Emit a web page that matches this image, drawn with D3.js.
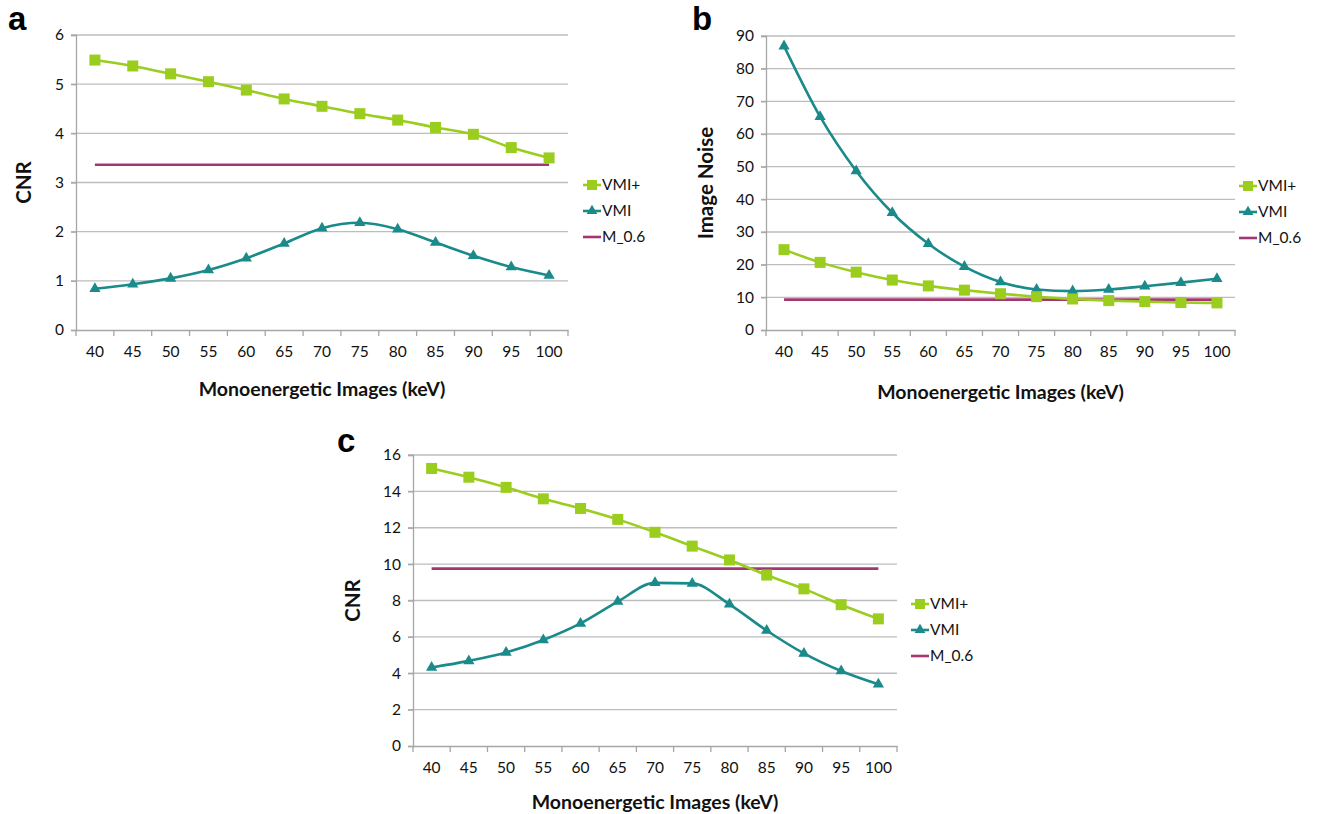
<!DOCTYPE html>
<html><head><meta charset="utf-8">
<script src="https://cdn.jsdelivr.net/npm/d3@7"></script>
<style>body{margin:0;background:#fff;}svg{display:block;font-family:Lato,"Open Sans",sans-serif;}</style>
</head><body><svg id="chart" width="1338" height="814"></svg>
<script>
const categories = ["40","45","50","55","60","65","70","75","80","85","90","95","100"];
const seriesNames = ["VMI+","VMI","M_0.6"];
// Panel a: CNR
const aVMIplus = [5.49,5.37,5.21,5.05,4.88,4.70,4.55,4.40,4.27,4.12,3.98,3.71,3.50];
const aVMI = [0.84,0.93,1.05,1.22,1.46,1.76,2.07,2.18,2.05,1.78,1.51,1.28,1.11];
const aM06 = [3.36,3.36,3.36,3.36,3.36,3.36,3.36,3.36,3.36,3.36,3.36,3.36,3.36];
const aTicks = [0,1,2,3,4,5,6];
// Panel b: Image Noise
const bVMIplus = [24.6,20.7,17.7,15.3,13.5,12.2,11.1,10.2,9.5,9.0,8.7,8.4,8.3];
const bVMI = [86.9,65.3,48.7,35.9,26.4,19.4,14.7,12.4,11.9,12.4,13.4,14.5,15.7];
const bM06 = [9.3,9.3,9.3,9.3,9.3,9.3,9.3,9.3,9.3,9.3,9.3,9.3,9.3];
const bTicks = [0,10,20,30,40,50,60,70,80,90];
// Panel c: CNR
const cVMIplus = [15.26,14.78,14.22,13.59,13.06,12.46,11.75,10.99,10.23,9.40,8.64,7.77,6.99];
const cVMI = [4.32,4.68,5.14,5.83,6.74,7.94,8.97,8.94,7.79,6.35,5.09,4.12,3.39];
const cM06 = [9.75,9.75,9.75,9.75,9.75,9.75,9.75,9.75,9.75,9.75,9.75,9.75,9.75];
const cTicks = [0,2,4,6,8,10,12,14,16];

const colors = {"VMI+":"#9ACD1E","VMI":"#1B8A8A","M_0.6":"#A3386F"};
const svg = d3.select("#chart");

function panel(cfg){
  const g = svg.append("g");
  const x = d3.scaleBand().domain(categories).range([cfg.left,cfg.right]);
  const y = d3.scaleLinear().domain([0,cfg.ticks[cfg.ticks.length-1]]).range([cfg.bottom,cfg.top]);
  g.append("g").selectAll("line").data(cfg.ticks.filter(t=>t>0)).join("line")
    .attr("x1",cfg.left-5).attr("x2",cfg.right).attr("y1",d=>y(d)).attr("y2",d=>y(d))
    .attr("stroke","#bdbdbd").attr("stroke-width",1.3);
  const ya = g.append("g").attr("transform",`translate(${cfg.left},0)`)
    .call(d3.axisLeft(y).tickValues(cfg.ticks).tickFormat(d3.format("d")).tickSize(5).tickPadding(7));
  ya.select(".domain").attr("stroke","#a6a6a6").attr("stroke-width",1.3);
  ya.selectAll(".tick line").attr("stroke","#a6a6a6").attr("stroke-width",1.3);
  ya.selectAll("text").attr("font-family","Lato, sans-serif").attr("font-size",15.5).attr("fill","#111");
  const xa = g.append("g").attr("transform",`translate(0,${cfg.bottom})`)
    .call(d3.axisBottom(x).tickSize(0).tickPadding(16));
  xa.select(".domain").attr("stroke","#a6a6a6").attr("stroke-width",1.3);
  xa.selectAll("text").attr("font-family","Lato, sans-serif").attr("font-size",15.5).attr("fill","#111");
  const bounds = categories.map(c=>x(c)).concat([cfg.right]);
  g.append("g").selectAll("line").data(bounds).join("line")
    .attr("x1",d=>d).attr("x2",d=>d).attr("y1",cfg.bottom).attr("y2",cfg.bottom+6)
    .attr("stroke","#a6a6a6").attr("stroke-width",1.3);
  const cx = c=>x(c)+x.bandwidth()/2;
  const line = d3.line().x((d,i)=>cx(categories[i])).y(d=>y(d)).curve(d3.curveMonotoneX);
  const series = [["M_0.6",cfg.m06],["VMI",cfg.vmi],["VMI+",cfg.vmip]];
  series.forEach(([name,vals])=>{
    g.append("path").datum(vals).attr("d",line).attr("fill","none")
      .attr("stroke",colors[name]).attr("stroke-width",2.6);
  });
  g.append("g").selectAll("path").data(cfg.vmi).join("path")
    .attr("transform",(d,i)=>`translate(${cx(categories[i])},${y(d)})`)
    .attr("d",d3.symbol(d3.symbolTriangle,55)).attr("fill",colors["VMI"]);
  g.append("g").selectAll("rect").data(cfg.vmip).join("rect")
    .attr("x",(d,i)=>cx(categories[i])-5.5).attr("y",d=>y(d)-5.5)
    .attr("width",11).attr("height",11).attr("fill",colors["VMI+"]);
  g.append("text").attr("x",(cfg.left+cfg.right)/2).attr("y",cfg.xTitleY)
    .attr("text-anchor","middle").attr("font-family","Lato, sans-serif").attr("font-weight","bold")
    .attr("font-size",19.5).attr("fill","#111").text("Monoenergetic Images (keV)");
  g.append("text").attr("transform",`translate(${cfg.yTitleX},${(cfg.top+cfg.bottom)/2}) rotate(-90)`)
    .attr("text-anchor","middle").attr("font-family","Lato, sans-serif").attr("font-weight","bold")
    .attr("font-size",20.5).attr("fill","#111").text(cfg.yTitle);
  g.append("text").attr("x",cfg.labelX).attr("y",cfg.labelY).attr("font-family","Liberation Sans, Arial, sans-serif")
    .attr("font-weight","bold").attr("font-size",33).attr("fill","#000").text(cfg.label);
  const lg = g.append("g").attr("transform",`translate(${cfg.legX},${cfg.legY})`);
  seriesNames.forEach((name,i)=>{
    const yy = i*26;
    lg.append("line").attr("x1",0).attr("x2",18).attr("y1",yy).attr("y2",yy)
      .attr("stroke",colors[name]).attr("stroke-width",2.6);
    if(name==="VMI+") lg.append("rect").attr("x",4).attr("y",yy-5).attr("width",10).attr("height",10).attr("fill",colors[name]);
    if(name==="VMI") lg.append("path").attr("transform",`translate(9,${yy})`).attr("d",d3.symbol(d3.symbolTriangle,50)).attr("fill",colors[name]);
    lg.append("text").attr("x",19).attr("y",yy).attr("dy","0.35em").attr("font-family","Lato, sans-serif")
      .attr("font-size",15.5).attr("fill","#111").text(name);
  });
}

panel({left:76,right:568,top:35,bottom:330,ticks:aTicks,vmip:aVMIplus,vmi:aVMI,m06:aM06,
  xTitleY:396,yTitleX:31,yTitle:"CNR",label:"a",labelX:8,labelY:30,legX:583,legY:185});
panel({left:766,right:1235,top:36,bottom:330,ticks:bTicks,vmip:bVMIplus,vmi:bVMI,m06:bM06,
  xTitleY:399,yTitleX:713,yTitle:"Image Noise",label:"b",labelX:692,labelY:30,legX:1239,legY:186});
panel({left:413,right:897,top:455,bottom:746,ticks:cTicks,vmip:cVMIplus,vmi:cVMI,m06:cM06,
  xTitleY:809,yTitleX:360,yTitle:"CNR",label:"c",labelX:337,labelY:452,legX:911,legY:604});
</script></body></html>
